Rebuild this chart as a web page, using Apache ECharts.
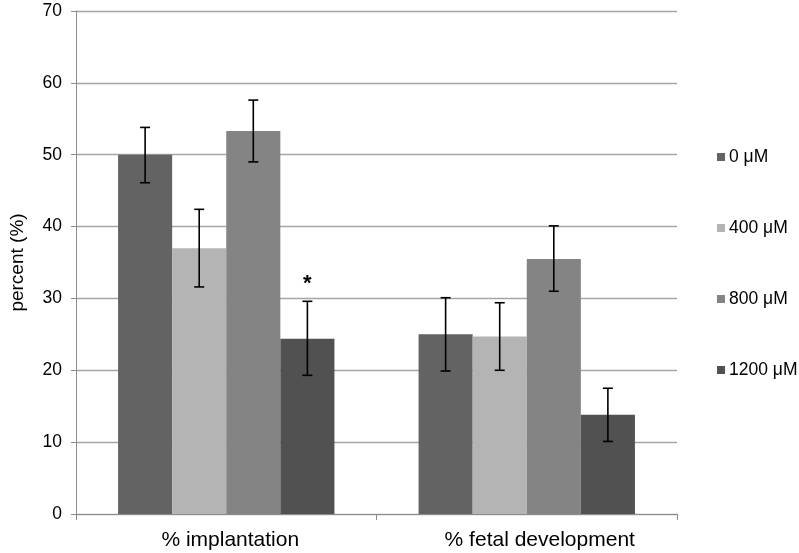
<!DOCTYPE html>
<html>
<head>
<meta charset="utf-8">
<script src="https://cdn.jsdelivr.net/npm/echarts@6/dist/echarts.min.js"></script>
<style>html,body{margin:0;padding:0;background:#fff;}#c{width:799px;height:553px;}</style>
</head>
<body>
<div id="c"></div>
<script>
var categories = ['% implantation', '% fetal development'];
var seriesNames = ['0 μM', '400 μM', '800 μM', '1200 μM'];
var values0 = [50.0, 25.0];
var values400 = [37.0, 24.7];
var values800 = [53.3, 35.5];
var values1200 = [24.4, 13.8];
var errLow0 = [46.1, 19.9];
var errHigh0 = [53.8, 30.1];
var errLow400 = [31.6, 20.0];
var errHigh400 = [42.4, 29.4];
var errLow800 = [49.0, 31.0];
var errHigh800 = [57.6, 40.1];
var errLow1200 = [19.3, 10.1];
var errHigh1200 = [29.6, 17.5];
var marks1200 = ['*', ''];
var yTicks = [0, 10, 20, 30, 40, 50, 60, 70];

var colors = ['#636363', '#b4b4b4', '#848484', '#515151'];
var allValues = [values0, values400, values800, values1200];
var allLow = [errLow0, errLow400, errLow800, errLow1200];
var allHigh = [errHigh0, errHigh400, errHigh800, errHigh1200];
var allMarks = [['', ''], ['', ''], ['', ''], marks1200];
var GAP = 0.28;
var FONT = 'Liberation Sans, Arial, sans-serif';

var series = [];
seriesNames.forEach(function (name, si) {
  series.push({
    name: name,
    type: 'bar',
    data: allValues[si],
    barGap: '0%',
    barCategoryGap: (GAP * 100) + '%',
    itemStyle: { color: colors[si] },
    emphasis: { disabled: true },
    z: 2
  });
});
seriesNames.forEach(function (name, si) {
  var data = categories.map(function (c, ci) {
    return [ci, allLow[si][ci], allHigh[si][ci], allMarks[si][ci]];
  });
  series.push({
    type: 'custom',
    data: data,
    z: 5,
    silent: true,
    renderItem: function (params, api) {
      var ci = api.value(0);
      var lo = api.coord([ci, api.value(1)]);
      var hi = api.coord([ci, api.value(2)]);
      var band = api.size([1, 0])[0];
      var bw = band * (1 - GAP) / 4;
      var x = lo[0] + (si - 1.5) * bw;
      var cap = 5;
      var st = { stroke: '#000', lineWidth: 1.6 };
      var children = [
        { type: 'line', shape: { x1: x, y1: lo[1], x2: x, y2: hi[1] }, style: st },
        { type: 'line', shape: { x1: x - cap, y1: lo[1], x2: x + cap, y2: lo[1] }, style: st },
        { type: 'line', shape: { x1: x - cap, y1: hi[1], x2: x + cap, y2: hi[1] }, style: st }
      ];
      var m = data[params.dataIndex][3];
      if (m) {
        children.push({
          type: 'text',
          style: { text: m, x: x, y: hi[1] - 17, align: 'center', verticalAlign: 'middle', font: 'bold 22px ' + FONT, fill: '#000' }
        });
      }
      return { type: 'group', children: children };
    }
  });
});

var chart = echarts.init(document.getElementById('c'), null, { renderer: 'canvas' });
chart.setOption({
  animation: false,
  backgroundColor: '#fff',
  textStyle: { fontFamily: FONT },
  grid: { left: 75, right: 122, top: 11, bottom: 39, containLabel: false },
  legend: {
    data: seriesNames,
    orient: 'vertical',
    left: 712,
    top: 143,
    itemWidth: 8,
    itemHeight: 8,
    itemGap: 53,
    icon: 'rect',
    textStyle: { fontSize: 17.5, color: '#000', fontFamily: FONT, padding: [0, 0, 0, -1] },
    selectedMode: false
  },
  xAxis: {
    type: 'category',
    data: categories,
    axisLine: { lineStyle: { color: '#8c8c8c', width: 1 } },
    axisTick: { show: true, alignWithLabel: false, length: 6, lineStyle: { color: '#8c8c8c' } },
    axisLabel: {
      fontSize: 21, color: '#000', margin: 16, fontFamily: FONT,
      formatter: function (v, i) { return (i === 0 ? '{a|' : '{b|') + v + '}'; },
      rich: {
        a: { fontSize: 21, color: '#000', fontFamily: FONT, padding: [0, 0, 0, 8] },
        b: { fontSize: 21, color: '#000', fontFamily: FONT, padding: [0, 0, 0, 26] }
      }
    }
  },
  yAxis: {
    type: 'value',
    min: yTicks[0],
    max: yTicks[yTicks.length - 1],
    interval: 10,
    name: 'percent (%)',
    nameLocation: 'middle',
    nameGap: 49,
    nameRotate: 90,
    nameTextStyle: { fontSize: 19, color: '#000', fontFamily: FONT },
    axisLine: { show: true, lineStyle: { color: '#8c8c8c', width: 1 } },
    axisTick: { show: true, length: 5, lineStyle: { color: '#8c8c8c' } },
    axisLabel: { fontSize: 17.5, color: '#000', margin: 14, fontFamily: FONT },
    splitLine: { show: true, lineStyle: { color: '#a6a6a6', width: 1.3 } }
  },
  series: series
});
</script>
</body>
</html>
